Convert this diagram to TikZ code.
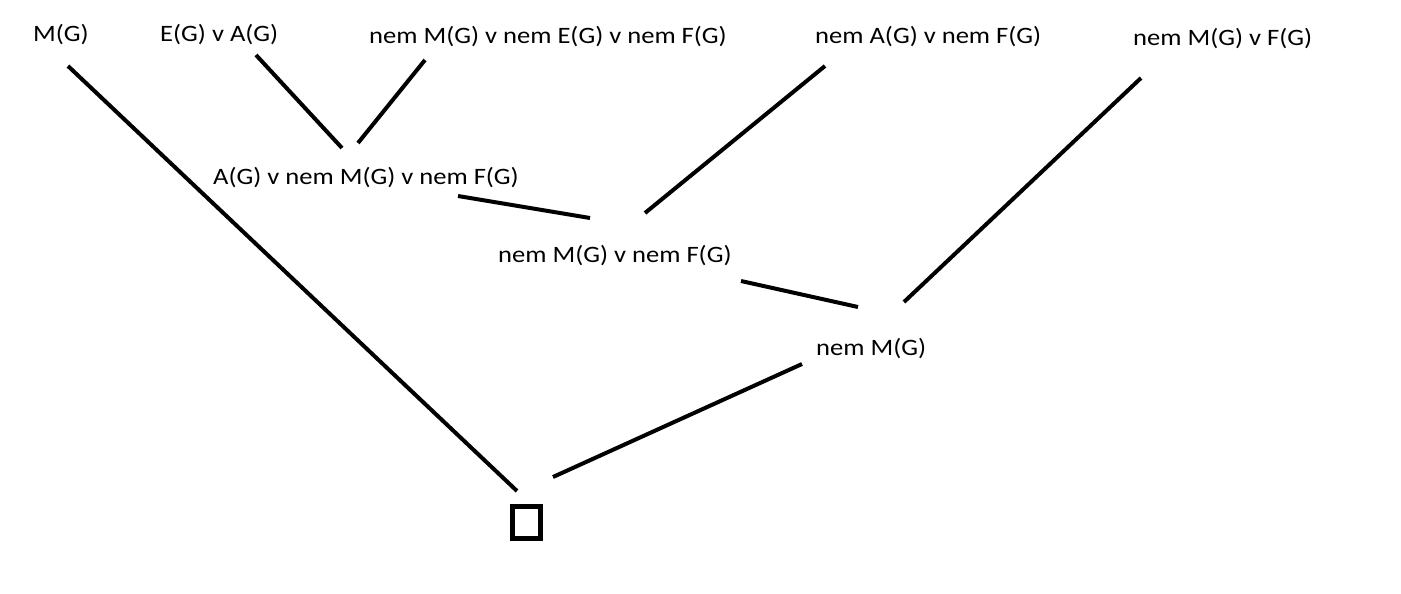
\documentclass[tikz,border=0pt]{standalone}
\usepackage{fontspec}
\setmainfont[FakeStretch=1.13]{Carlito}
\begin{document}
\begin{tikzpicture}[x=1pt,y=-1pt,
  lbl/.style={anchor=base west,inner sep=0pt,font=\fontsize{23.5}{28}\selectfont},
  edge/.style={line width=4pt},
  box/.style={draw,rectangle,line width=5pt,inner sep=0pt,minimum width=28pt,minimum height=32pt}]
\useasboundingbox (0,0) rectangle (1401,594);
\fill[white] (0,0) rectangle (1401,594);
% labels
\node[lbl] (t1) at (33,42) {M(G)};
\node[lbl] (t2) at (160,42) {E(G) v A(G)};
\node[lbl] (t3) at (369,44) {nem M(G) v nem E(G) v nem F(G)};
\node[lbl] (t4) at (815,44) {nem A(G) v nem F(G)};
\node[lbl] (t5) at (1133,46) {nem M(G) v F(G)};
\node[lbl] (r1) at (213,184) {A(G) v nem M(G) v nem F(G)};
\node[lbl] (r2) at (498,262) {nem M(G) v nem F(G)};
\node[lbl] (r3) at (816,355) {nem M(G)};
\node[box] (sq) at (526.5,522.5) {};
% connector ends
\coordinate (t1s) at (68,66);   \coordinate (sqa) at (517,491);
\coordinate (t2s) at (256,55);  \coordinate (r1a) at (342,148);
\coordinate (t3s) at (425,60);  \coordinate (r1b) at (358,143);
\coordinate (r1s) at (458,196); \coordinate (r2a) at (590,218);
\coordinate (t4s) at (825,66);  \coordinate (r2b) at (645,213);
\coordinate (r2s) at (741,281); \coordinate (r3a) at (858,307);
\coordinate (t5s) at (1141,78); \coordinate (r3b) at (904,302);
\coordinate (r3s) at (802,364); \coordinate (sqb) at (553,477);
\draw[edge] (t1s) -- (sqa);
\draw[edge] (t2s) -- (r1a);
\draw[edge] (t3s) -- (r1b);
\draw[edge] (r1s) -- (r2a);
\draw[edge] (t4s) -- (r2b);
\draw[edge] (r2s) -- (r3a);
\draw[edge] (t5s) -- (r3b);
\draw[edge] (r3s) -- (sqb);
\end{tikzpicture}
\end{document}
